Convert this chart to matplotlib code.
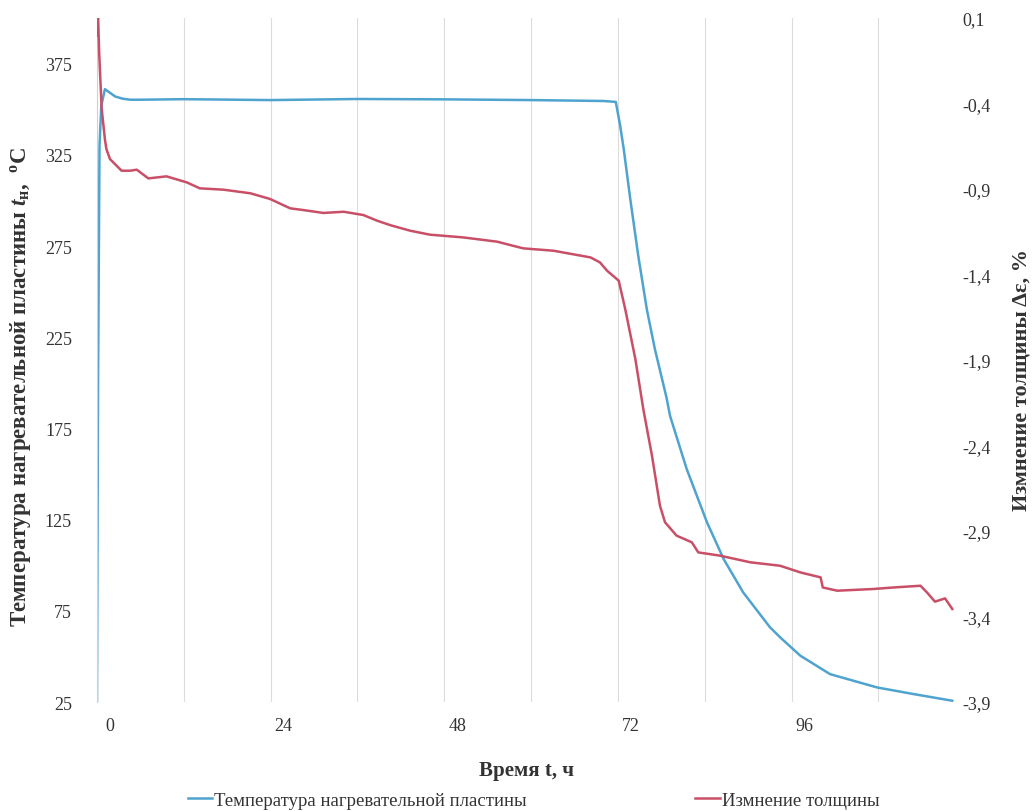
import numpy as np
import matplotlib
matplotlib.use("Agg")
import matplotlib.pyplot as plt
import matplotlib.transforms as mtransforms

plt.rcParams['font.family'] = ['Liberation Serif', 'DejaVu Serif']
plt.rcParams['mathtext.fontset'] = 'custom'
plt.rcParams['mathtext.rm'] = 'Liberation Serif'
plt.rcParams['mathtext.it'] = 'Liberation Serif:italic:bold'
plt.rcParams['mathtext.bf'] = 'Liberation Serif:bold'

# time, h (from start of record)
t_temp = [0, 0.15, 0.35, 0.6, 1.1, 1.8, 2.5, 3.5, 4.6, 6, 12, 24, 36, 48, 60, 70, 71.7,
          72.3, 72.8, 73.7, 74.8, 76.0, 77.1, 78.7, 79.2, 81.5, 84.3, 86.6, 89.3, 93.0,
          94.4, 97.2, 101.3, 107.8, 112.8, 118.2]
temp = [25, 200, 330, 352, 361, 359, 357, 355.8, 355.2, 355.2, 355.5, 355.0, 355.6, 355.4,
        355.0, 354.5, 354, 341, 328, 300.7, 269.7, 240, 218.5, 192, 181.8, 152.7, 123.5,
        103.4, 85.1, 66, 60.5, 50.4, 40.3, 33.0, 29.4, 25.7]

t_thick = [0, 0.15, 0.3, 0.65, 1.1, 1.3, 1.8, 3.4, 4.6, 5.5, 7.1, 9.6, 12.4, 14.2, 17.5,
           21.2, 23.9, 26.7, 28.5, 31.3, 34.1, 36.8, 38.7, 40.5, 43.3, 46.0, 50.6, 55.3,
           58.9, 63.1, 68.2, 69.5, 70.5, 72.1, 73.0, 74.4, 75.5, 76.7, 77.8, 78.5, 80.1,
           82.2, 83.1, 86.1, 90.3, 94.4, 97.2, 100.0, 100.3, 102.3, 107.3, 110.1, 113.8,
           114.7, 115.8, 117.2, 118.2]
thick = [0.0, 0.12, -0.1, -0.43, -0.61, -0.666, -0.725, -0.793, -0.793, -0.787, -0.838,
         -0.826, -0.861, -0.896, -0.904, -0.925, -0.958, -1.013, -1.023, -1.040, -1.033,
         -1.052, -1.085, -1.111, -1.144, -1.167, -1.183, -1.208, -1.247, -1.261, -1.300,
         -1.329, -1.378, -1.436, -1.602, -1.894, -2.187, -2.460, -2.752, -2.849, -2.927,
         -2.966, -3.025, -3.044, -3.083, -3.103, -3.142, -3.171, -3.230, -3.249, -3.239,
         -3.230, -3.220, -3.259, -3.313, -3.294, -3.356]

left_ticks = [25, 75, 125, 175, 225, 275, 325, 375]
right_ticks = [0.1, -0.4, -0.9, -1.4, -1.9, -2.4, -2.9, -3.4, -3.9]
x_ticks = [0, 24, 48, 72, 96]

blue = '#4EA3CF'
red = '#C94F67'

fig = plt.figure(figsize=(10.36, 8.12), dpi=100)
ax = fig.add_axes([0.0936, 0.1342, 0.8284, 0.8424])
ax2 = ax.twinx()

l1, = ax.plot(t_temp, temp, color=blue, lw=1.8, label='Температура нагревательной пластины')
l2, = ax2.plot(t_thick, thick, color=red, lw=1.8, label='Измнение толщины')

ax.set_xlim(0, 118.6)
ax.set_ylim(25, 400)
ax2.set_ylim(-3.9, 0.1)

ax.set_xticks(x_ticks)
ax.set_xticks(np.arange(12, 120, 24), minor=True)
ax.grid(True, axis='x', which='both', color='#dcdcdc', lw=0.8)
ax.set_yticks(left_ticks)
ax2.set_yticks(right_ticks)
ax2.set_yticklabels([f'{v:.1f}'.replace('.', ',') for v in right_ticks])

for a in (ax, ax2):
    for s in a.spines.values():
        s.set_visible(False)
ax.spines['left'].set_visible(True)
ax.spines['left'].set_color('#d0d0d0')

ax.tick_params(axis='x', which='both', length=0, pad=11, labelsize=13, colors='#333333')
ax.tick_params(axis='y', length=0, pad=18, labelsize=13, colors='#333333')
ax2.tick_params(axis='y', length=0, pad=5, labelsize=13, colors='#333333')

shift = mtransforms.ScaledTranslation(0.13, 0, fig.dpi_scale_trans)
for lab in ax.get_xticklabels():
    lab.set_transform(lab.get_transform() + shift)

ax.set_xlabel('Время t, ч', fontsize=15, fontweight='bold', color='#333333')
ax.xaxis.set_label_coords(0.5, -0.085)
ax.set_ylabel('Температура нагревательной пластины $\\mathit{t}_{\\mathbf{н}}$,  $^{\\mathbf{o}}$C',
              fontsize=16.5, fontweight='bold', color='#333333')
ax.yaxis.set_label_coords(-0.074, 0.462)
ax2.set_ylabel('Измнение толщины Δε, %', fontsize=16, fontweight='bold', color='#333333')
ax2.yaxis.set_label_coords(1.066, 0.472)

fig.legend(handles=[l1, l2], loc='lower center', bbox_to_anchor=(0.515, -0.018), ncol=2,
           frameon=False, fontsize=13.5, columnspacing=9, handlelength=1.3, handletextpad=0.1,
           labelcolor='#333333')

fig.savefig('out.png', dpi=100)
